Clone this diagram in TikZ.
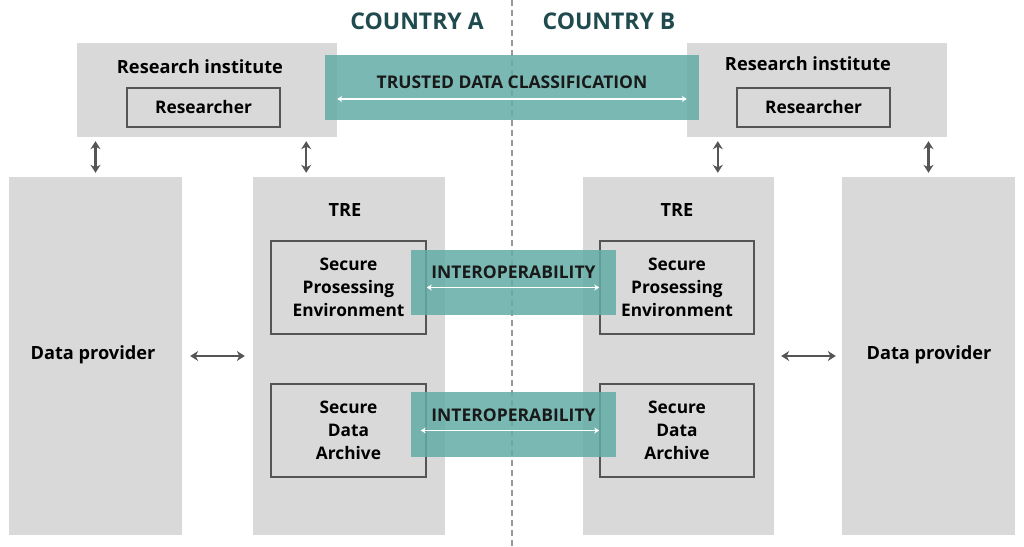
\documentclass[tikz,border=0pt]{standalone}
\usepackage{fontspec}
\setmainfont{Open Sans}
\usetikzlibrary{arrows.meta,positioning}
\definecolor{boxgray}{HTML}{D9D9D9}
\definecolor{linegray}{HTML}{555555}
\definecolor{bandteal}{RGB}{99,172,166}
\definecolor{titleteal}{HTML}{1F4A4E}
\tikzset{
  panel/.style={fill=boxgray, inner sep=0pt},
  innerbox/.style={draw=linegray, line width=1.6pt, inner sep=0pt, align=center,
    font=\bfseries\fontsize{17.3}{23}\selectfont},
  band/.style={fill=bandteal, fill opacity=0.85, inner sep=0pt},
  heading/.style={font=\bfseries\fontsize{18.2}{21}\selectfont},
  country/.style={font=\bfseries\fontsize{23}{26}\selectfont, text=titleteal},
  bandtext/.style={font=\bfseries\fontsize{17.5}{20}\selectfont, text=black!90},
  biarrow/.style={linegray, line width=2.2pt,
    {Stealth[length=8pt,width=10pt]}-{Stealth[length=8pt,width=10pt]}},
  whitearrow/.style={white, line width=1.3pt,
    {Stealth[length=5pt,width=6pt]}-{Stealth[length=5pt,width=6pt]}},
}
\begin{document}
\begin{tikzpicture}[x=1pt,y=-1pt]
\useasboundingbox (0,0) rectangle (1024,546);

% research institutes
\node[panel, minimum width=260, minimum height=94] (riA) at (207,90) {};
\node[panel, minimum width=260, minimum height=94] (riB) at (817,90) {};
\node[heading] (riAtitle) at (200,67) {Research institute};
\node[heading] (riBtitle) at (808,64) {Research institute};
\node[innerbox, minimum width=153, minimum height=39] (resA) at (203.5,107.5) {Researcher};
\node[innerbox, minimum width=153, minimum height=39] (resB) at (813.5,107.5) {Researcher};

% data providers and TREs
\node[panel, minimum width=173, minimum height=358] (dpA) at (95.5,356) {};
\node[panel, minimum width=192, minimum height=358] (treA) at (349,356) {};
\node[panel, minimum width=191, minimum height=358] (treB) at (678.5,356) {};
\node[panel, minimum width=173, minimum height=358] (dpB) at (928.5,356) {};
\node[heading] (dpAtext) at (93,355) {Data provider};
\node[heading] (dpBtext) at (929,355) {Data provider};
\node[heading] (treAtitle) at (345,210) {TRE};
\node[heading] (treBtitle) at (677,210) {TRE};

\node[innerbox, minimum width=155, minimum height=93] (speA) at (348.5,287.5)
{Secure\\Prosessing\\Environment};
\node[innerbox, minimum width=155, minimum height=93] (sdaA) at (348.5,430.5)
{Secure\\Data\\Archive};
\node[innerbox, minimum width=154, minimum height=93] (speB) at (677,287.5)
{Secure\\Prosessing\\Environment};
\node[innerbox, minimum width=154, minimum height=93] (sdaB) at (677,430.5)
{Secure\\Data\\Archive};

% border between the countries
\coordinate (borderTop) at (512,0);
\coordinate (borderBot) at (512,546);
\draw[black!40, line width=1.4pt, dash pattern=on 6pt off 4pt] (borderTop) -- (borderBot);
\node[country] (cA) at (417,21) {COUNTRY A};
\node[country] (cB) at (609,21) {COUNTRY B};

% teal bands
\node[band, minimum width=374, minimum height=65] (tdc) at (512,87.5) {};
\node[band, minimum width=205, minimum height=65] (iopA) at (513.5,282.5) {};
\node[band, minimum width=205, minimum height=65] (iopB) at (513.5,424.5) {};
\node[bandtext] (tdctext) at (512,82) {TRUSTED DATA CLASSIFICATION};
\node[bandtext] (iopAtext) at (513.5,272) {INTEROPERABILITY};
\node[bandtext] (iopBtext) at (513.5,415) {INTEROPERABILITY};
\draw[whitearrow] ([shift={(0,9)}]riA.east) -- ([shift={(0,9)}]riB.west);
\draw[whitearrow] (speA.east) -- (speB.west);
\draw[whitearrow] ([shift={(-6,0)}]sdaA.east) -- (sdaB.west);

% connectors
\draw[biarrow, shorten <=4pt, shorten >=4pt] (dpA.north) -- (dpA.north |- riA.south);
\draw[biarrow, shorten <=4pt, shorten >=4pt] ([shift={(-31,0)}]riA.south east) -- ([shift={(-31,0)}]riA.south east |- treA.north);
\draw[biarrow, shorten <=4pt, shorten >=4pt] ([shift={(31,0)}]riB.south west) -- ([shift={(31,0)}]riB.south west |- treB.north);
\draw[biarrow, shorten <=4pt, shorten >=4pt] (dpB.north) -- (dpB.north |- riB.south);
\draw[biarrow, shorten <=8pt, shorten >=8pt] (dpA.east) -- (treA.west);
\draw[biarrow, shorten <=7pt, shorten >=6pt] (treB.east) -- (dpB.west);
\end{tikzpicture}
\end{document}
